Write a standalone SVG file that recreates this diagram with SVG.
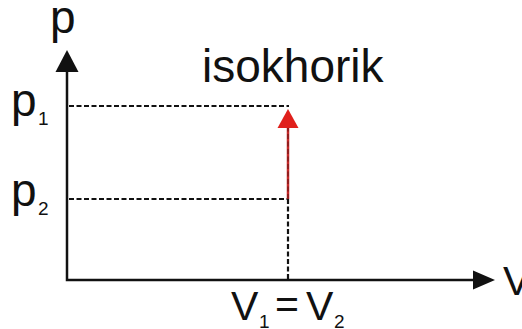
<svg xmlns="http://www.w3.org/2000/svg" width="522" height="329" viewBox="0 0 522 329">
  <defs>
    <style>
      .axis { stroke: #111; stroke-width: 2.5; fill: none; }
      .dash { stroke: #111; stroke-width: 2.2; stroke-dasharray: 5 2.5; fill: none; }
      .lbl { font-family: "Liberation Sans", Arial, sans-serif; fill: #111; }
    </style>
  </defs>
  <rect width="522" height="329" fill="#ffffff"/>
  <g id="guides">
    <line class="dash" x1="69" y1="106" x2="289" y2="106"/>
    <line class="dash" x1="69" y1="199" x2="289" y2="199"/>
    <line class="dash" x1="288" y1="199" x2="288" y2="279"/>
  </g>
  <g id="axes">
    <polyline class="axis" points="67,70 67,280 475,280"/>
    <polygon points="67,50 55.5,72 78.5,72" fill="#111"/>
    <polygon points="495,280 473,270.5 473,289.5" fill="#111"/>
  </g>
  <g id="process">
    <line x1="288" y1="199" x2="288" y2="126" stroke="#c42a2a" stroke-width="2.5"/>
    <line x1="288" y1="199" x2="288" y2="126" stroke="#5a1010" stroke-width="1.5" stroke-dasharray="5 2.5" opacity="0.6"/>
    <polygon points="288,109 277.5,128 298.5,128" fill="#e0201c"/>
  </g>
  <g id="labels">
    <text class="lbl" x="50" y="33" font-size="46">p</text>
    <text class="lbl" x="202" y="82" font-size="46">isokhorik</text>
    <text class="lbl" x="11" y="116" font-size="46">p</text>
    <text class="lbl" x="38" y="125" font-size="19">1</text>
    <text class="lbl" x="11" y="206" font-size="46">p</text>
    <text class="lbl" x="38" y="215" font-size="19">2</text>
    <text class="lbl" x="503" y="295" font-size="41">V</text>
    <text class="lbl" x="231" y="320" font-size="41">V</text>
    <text class="lbl" x="259" y="328" font-size="19">1</text>
    <text class="lbl" x="275" y="318" font-size="41">=</text>
    <text class="lbl" x="306" y="320" font-size="41">V</text>
    <text class="lbl" x="334" y="328" font-size="19">2</text>
  </g>
</svg>
